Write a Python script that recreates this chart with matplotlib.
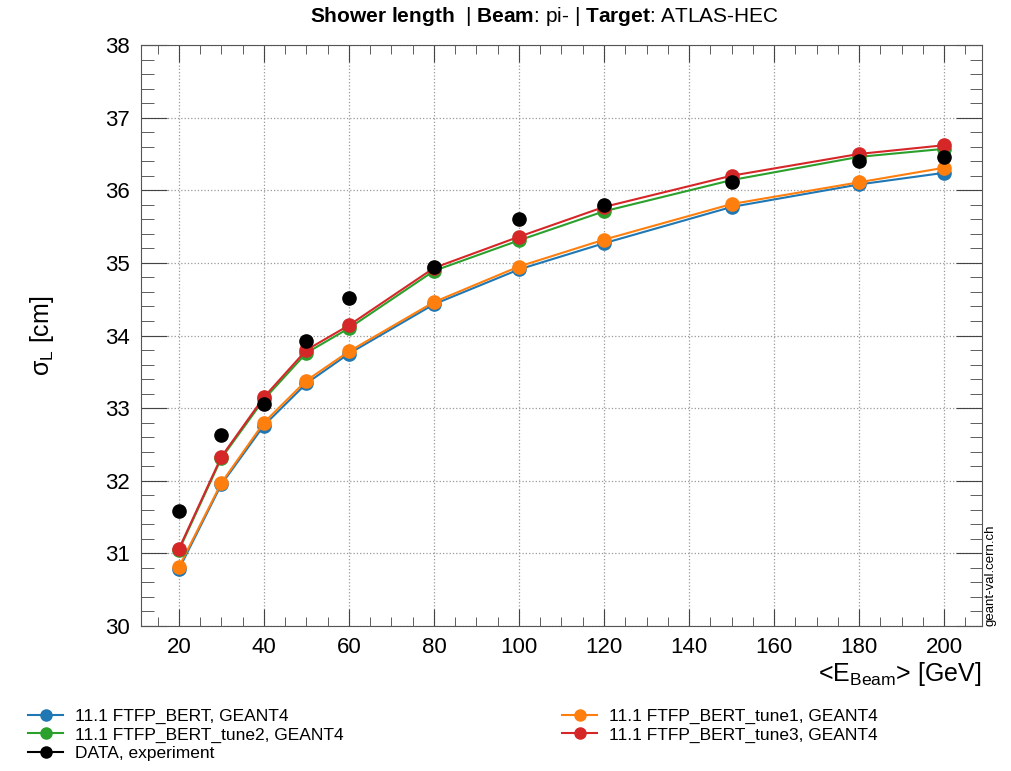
import matplotlib
matplotlib.use("Agg")
import matplotlib.pyplot as plt
from matplotlib.lines import Line2D
from matplotlib.ticker import MultipleLocator

plt.rcParams["font.family"] = ["Liberation Sans", "DejaVu Sans"]
plt.rcParams["mathtext.fontset"] = "custom"
plt.rcParams["mathtext.rm"] = "Liberation Sans"
plt.rcParams["mathtext.it"] = "Liberation Sans:italic"
plt.rcParams["mathtext.bf"] = "Liberation Sans:bold"

# beam energies [GeV]
energy = [20, 30, 40, 50, 60, 80, 100, 120, 150, 180, 200]

# longitudinal shower length sigma_L [cm]
ftfp_bert = [30.78, 31.95, 32.76, 33.34, 33.75, 34.43, 34.91, 35.27, 35.77, 36.08, 36.24]
ftfp_tune1 = [30.81, 31.97, 32.80, 33.38, 33.78, 34.46, 34.95, 35.32, 35.81, 36.11, 36.31]
ftfp_tune2 = [31.04, 32.31, 33.12, 33.76, 34.10, 34.89, 35.31, 35.71, 36.14, 36.46, 36.57]
ftfp_tune3 = [31.06, 32.33, 33.15, 33.80, 34.14, 34.93, 35.36, 35.77, 36.20, 36.50, 36.62]
data_exp = [31.58, 32.63, 33.06, 33.93, 34.52, 34.95, 35.60, 35.80, 36.11, 36.40, 36.46]

labels = ["11.1 FTFP_BERT, GEANT4", "11.1 FTFP_BERT_tune1, GEANT4",
          "11.1 FTFP_BERT_tune2, GEANT4", "11.1 FTFP_BERT_tune3, GEANT4",
          "DATA, experiment"]
colors = ["#1f77b4", "#ff7f0e", "#2ca02c", "#d62728", "black"]

fig = plt.figure(figsize=(10.12, 7.71), dpi=100)
ax = fig.add_axes([141 / 1012, 1 - 626 / 771, (982 - 141) / 1012, (626 - 45) / 771])

series = [ftfp_bert, ftfp_tune1, ftfp_tune2, ftfp_tune3]
for vals, c in zip(series, colors[:4]):
    ax.plot(energy, vals, color=c, lw=1.5, marker="o", ms=9.5, zorder=3)
ax.plot(energy, data_exp, ls="none", color="black", marker="o", ms=9.5, zorder=4)

ax.set_xlim(11.1, 208.9)
ax.set_ylim(30, 38)
ax.xaxis.set_major_locator(MultipleLocator(20))
ax.xaxis.set_minor_locator(MultipleLocator(5))
ax.yaxis.set_major_locator(MultipleLocator(1))
ax.yaxis.set_minor_locator(MultipleLocator(0.2))
ax.grid(True, which="major", ls=":", color="#999999", lw=0.9)
ax.set_axisbelow(True)

ax.tick_params(axis="both", which="both", direction="in", top=True, right=True,
               labelsize=16, color="#444444")
ax.tick_params(axis="x", which="major", length=12.5, pad=8)
ax.tick_params(axis="x", which="minor", length=6.5)
ax.tick_params(axis="y", which="major", length=19, pad=8)
ax.tick_params(axis="y", which="minor", length=9)
for sp in ax.spines.values():
    sp.set_color("#555555")

ax.set_xlabel(r"<E$_\mathrm{Beam}$> [GeV]", fontsize=18, loc="right", labelpad=1)
ax.set_ylabel(r"σ$_\mathrm{L}$ [cm]", fontsize=18, labelpad=35)

fig.text(0.538, 0.979, r"$\bf{Shower\ length}$  | $\bf{Beam}$: pi- | $\bf{Target}$: ATLAS-HEC",
         ha="center", va="center", fontsize=15)
fig.text(0.979, 1 - 626 / 771, "geant-val.cern.ch", rotation=90, ha="center", va="bottom",
         fontsize=9.5)

order = [0, 2, 4, 1, 3]
handles = [Line2D([], [], color=colors[i], lw=1.5, marker="o", ms=8) for i in order]
fig.legend(handles, [labels[i] for i in order], loc="upper left",
           bbox_to_anchor=(0.021, 0.090), ncol=2, frameon=False, fontsize=12.5,
           handlelength=2.0, handletextpad=0.7, columnspacing=12.6, labelspacing=0.2,
           borderaxespad=0)

fig.savefig("out.png", dpi=100)
